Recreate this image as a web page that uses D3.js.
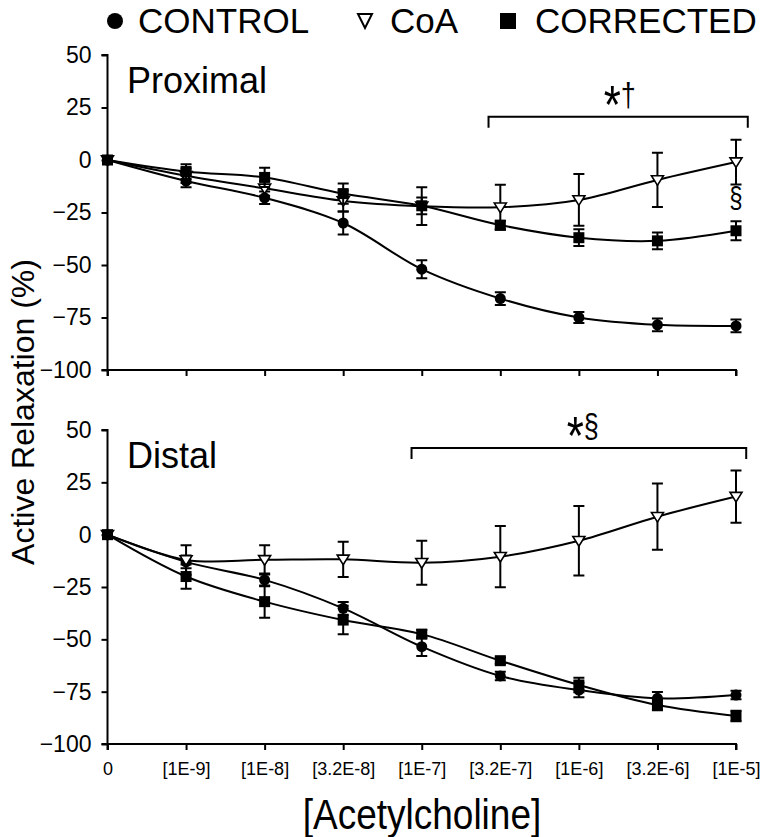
<!DOCTYPE html>
<html>
<head>
<meta charset="utf-8">
<script src="https://cdn.jsdelivr.net/npm/d3@7"></script>
<style>
  body { margin: 0; background: #fff; }
  svg { display: block; font-family: "Liberation Sans", Arial, sans-serif; }
</style>
</head>
<body>
<svg id="chart" width="765" height="837"></svg>
<script>
const categories = ["0", "[1E-9]", "[1E-8]", "[3.2E-8]", "[1E-7]", "[3.2E-7]", "[1E-6]", "[3.2E-6]", "[1E-5]"];
const yTicks = [50, 25, 0, -25, -50, -75, -100];
const seriesNames = ["CONTROL", "CoA", "CORRECTED"];

// Proximal panel
const controlProx = [0, -10, -18, -30, -52, -66, -75, -78.5, -79];
const controlProxErr = [0, 3, 3, 5.5, 4.3, 3, 2.6, 3, 3];
const coaProx = [0, -7.5, -13.5, -19.5, -22, -22.5, -19, -9.5, -1];
const coaProxErr = [0, 3.5, 3.5, 5, 9, 10.7, 12.3, 12.9, 10.7];
const corrProx = [0, -5.5, -8.3, -16, -21.8, -31, -37, -38.5, -33.7];
const corrProxErr = [0, 3.5, 4.6, 4.8, 4, 2, 4, 4, 4.5];

// Distal panel
const controlDist = [0, -13, -21.6, -35.2, -53.5, -67.5, -74.2, -78.2, -76.6];
const controlDistErr = [0, 3, 3, 3, 4.5, 2, 3.5, 3, 2];
const coaDist = [0, -12.1, -12, -11.8, -13.4, -10.5, -2.9, 8.6, 18.2];
const coaDistErr = [0, 7, 7, 8.4, 10.5, 14.6, 16.6, 15.8, 12.5];
const corrDist = [0, -20, -32, -40.8, -47.5, -60.2, -71.8, -81.4, -86.6];
const corrDistErr = [0, 5.8, 7.7, 6.8, 2, 1.5, 3.5, 2.5, 2.5];

// Annotations (x in category index units, y in data units)
const annotProx = { from: 4.85, to: 8.15, y: 20.6, sym: "\u2020", textX: 6.52, extra: { x: 8, y: -23, text: "\u00A7" } };
const annotDist = { from: 3.87, to: 8.13, y: 41.4, sym: "\u00A7", textX: 6.05 };

const svg = d3.select("#chart");
const x = d3.scalePoint().domain(categories).range([107.5, 736]);
const xi = d3.scaleLinear().domain([0, categories.length - 1]).range([107.5, 736]);

const panels = [
  { title: "Proximal", top: 55, bottom: 370, titleY: 93, showLabels: false,
    series: [
      { name: "CONTROL", v: controlProx, e: controlProxErr },
      { name: "CoA", v: coaProx, e: coaProxErr },
      { name: "CORRECTED", v: corrProx, e: corrProxErr }
    ], annot: annotProx },
  { title: "Distal", top: 430, bottom: 744, titleY: 468, showLabels: true,
    series: [
      { name: "CONTROL", v: controlDist, e: controlDistErr },
      { name: "CoA", v: coaDist, e: coaDistErr },
      { name: "CORRECTED", v: corrDist, e: corrDistErr }
    ], annot: annotDist }
];

function marker(g, name, cx, cy) {
  if (name === "CONTROL") {
    g.append("circle").attr("cx", cx).attr("cy", cy).attr("r", 5.5).attr("fill", "#000");
  } else if (name === "CoA") {
    const s = 6;
    g.append("path")
      .attr("d", `M${cx - s},${cy - s * 0.7}L${cx + s},${cy - s * 0.7}L${cx},${cy + s * 0.9}Z`)
      .attr("fill", "#fff").attr("stroke", "#000").attr("stroke-width", 1.6);
  } else {
    g.append("rect").attr("x", cx - 5.5).attr("y", cy - 5.5).attr("width", 11).attr("height", 11).attr("fill", "#000");
  }
}

panels.forEach(p => {
  const y = d3.scaleLinear().domain([-100, 50]).range([p.bottom, p.top]);
  const g = svg.append("g");

  // y axis
  const ya = g.append("g").attr("transform", "translate(107.5,0)")
    .call(d3.axisLeft(y).tickValues(yTicks).tickSize(6).tickPadding(10).tickFormat(d3.format("d")));
  ya.select(".domain").attr("stroke-width", 2).attr("d", `M-6,${y(50)}H0V${y(-100)}H-6`);
  ya.selectAll(".tick line").attr("stroke-width", 2);
  ya.selectAll(".tick text").attr("font-size", 23).attr("fill", "#000")
    .attr("font-family", "Liberation Sans, Arial, sans-serif");

  // x axis
  const xa = g.append("g").attr("transform", `translate(0,${p.bottom})`)
    .call(d3.axisBottom(x).tickSize(6).tickPadding(12));
  xa.select(".domain").attr("stroke-width", 2).attr("d", `M${x.range()[0]},6V0H${x.range()[1]}V6`);
  xa.selectAll(".tick line").attr("stroke-width", 2);
  xa.selectAll(".tick text").attr("font-size", 18).attr("fill", "#000")
    .attr("font-family", "Liberation Sans, Arial, sans-serif")
    .style("display", p.showLabels ? null : "none");

  // title
  g.append("text").attr("x", 127).attr("y", p.titleY).attr("font-size", 36).text(p.title);

  // series
  const line = d3.line().x((d, i) => x(categories[i])).y(d => y(d)).curve(d3.curveCatmullRom.alpha(0.5));
  p.series.forEach(s => {
    const sg = g.append("g");
    sg.append("path").attr("d", line(s.v)).attr("fill", "none").attr("stroke", "#000").attr("stroke-width", 2);
    s.v.forEach((v, i) => {
      const e = s.e[i];
      if (e > 0) {
        const cx = x(categories[i]);
        sg.append("path")
          .attr("d", `M${cx},${y(v + e)}V${y(v - e)}M${cx - 5.5},${y(v + e)}H${cx + 5.5}M${cx - 5.5},${y(v - e)}H${cx + 5.5}`)
          .attr("stroke", "#000").attr("stroke-width", 2).attr("fill", "none");
      }
    });
    s.v.forEach((v, i) => marker(sg, s.name, x(categories[i]), y(v)));
  });

  // bracket annotation
  const a = p.annot;
  const by = y(a.y);
  g.append("path")
    .attr("d", `M${xi(a.from)},${by + 11}V${by}H${xi(a.to)}V${by + 11}`)
    .attr("fill", "none").attr("stroke", "#000").attr("stroke-width", 2);
  const t = g.append("text").attr("transform", `translate(${xi(a.textX)},${by - 11}) scale(1,1.2)`)
    .attr("text-anchor", "middle");
  t.append("tspan").attr("font-size", 44).attr("dy", 14).text("*");
  t.append("tspan").attr("font-size", 27).attr("dy", -14).text(a.sym);
  if (a.extra) {
    g.append("text").attr("transform", `translate(${xi(a.extra.x)},${y(a.extra.y)}) scale(1,1.2)`)
      .attr("text-anchor", "middle").attr("font-size", 24).text(a.extra.text);
  }
});

// y axis label
svg.append("text").attr("transform", "translate(34,412) rotate(-90)").attr("text-anchor", "middle")
  .attr("font-size", 32).text("Active Relaxation (%)");

// x axis label
svg.append("text").attr("transform", "translate(422,829) scale(1,1.15)").attr("text-anchor", "middle")
  .attr("font-size", 37).text("[Acetylcholine]");

// legend
const legendPos = [{ mx: 115, tx: 138 }, { mx: 365, tx: 390 }, { mx: 508, tx: 535 }];
const lg = svg.append("g");
seriesNames.forEach((n, i) => {
  const lp = legendPos[i];
  if (n === "CONTROL") lg.append("circle").attr("cx", lp.mx).attr("cy", 21).attr("r", 8);
  else if (n === "CoA") lg.append("path").attr("d", `M${lp.mx - 7},${14}L${lp.mx + 7},${14}L${lp.mx},${28}Z`)
    .attr("fill", "#fff").attr("stroke", "#000").attr("stroke-width", 2);
  else lg.append("rect").attr("x", lp.mx - 8).attr("y", 13).attr("width", 16).attr("height", 16);
  lg.append("text").attr("x", lp.tx).attr("y", 33).attr("font-size", 35).text(n);
});
</script>
</body>
</html>
